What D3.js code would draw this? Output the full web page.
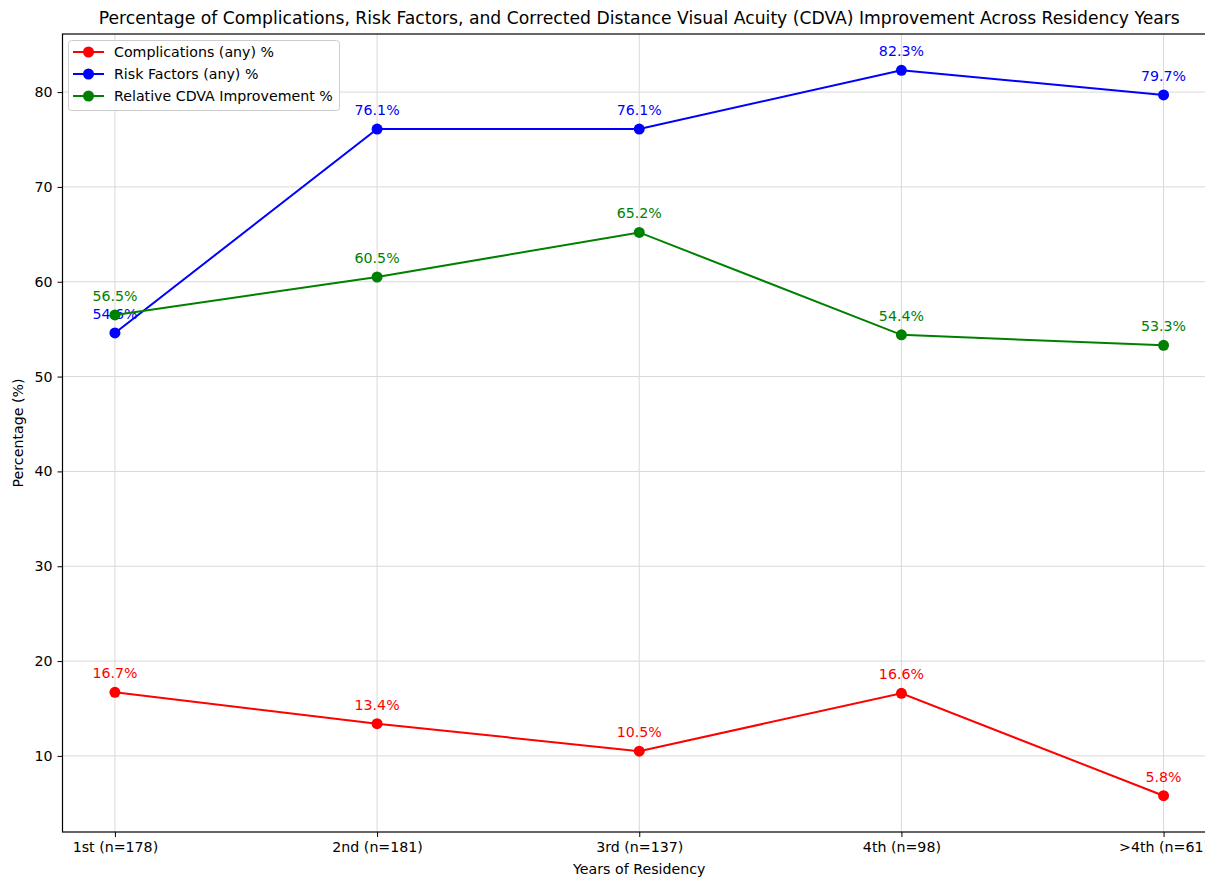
<!DOCTYPE html>
<html><head><meta charset="utf-8">
<script src="https://cdn.jsdelivr.net/npm/d3@7"></script>
<style>body{margin:0;background:#fff}svg{display:block;font-family:"DejaVu Sans",sans-serif}</style>
</head><body><svg id="c" width="1205" height="877"></svg>
<script>
const categories = ["1st (n=178)","2nd (n=181)","3rd (n=137)","4th (n=98)",">4th (n=61)"];
const complications = [16.7,13.4,10.5,16.6,5.8];
const riskFactors = [54.6,76.1,76.1,82.3,79.7];
const cdva = [56.5,60.5,65.2,54.4,53.3];
const yTicks = [10,20,30,40,50,60,70,80];
const seriesNames = ["Complications (any) %","Risk Factors (any) %","Relative CDVA Improvement %"];
const seriesColors = ["#ff0000","#0000ff","#008000"];
const series = [complications, riskFactors, cdva];

const svg = d3.select("#c");
const L=62.5, R=1216, T=34, B=832;
const FS=14.2;
const x = d3.scaleLinear().domain([-0.2,4.2]).range([L,R]);
const allV = series.flat();
const lo=d3.min(allV), hi=d3.max(allV), pad=(hi-lo)*0.05;
const y = d3.scaleLinear().domain([lo-pad,hi+pad]).range([B,T]);

// grid
const g = svg.append("g");
g.selectAll(".gx").data(categories).join("line")
 .attr("x1",(d,i)=>x(i)).attr("x2",(d,i)=>x(i)).attr("y1",T).attr("y2",B)
 .attr("stroke","#d9d9d9").attr("stroke-width",1);
g.selectAll(".gy").data(yTicks).join("line")
 .attr("x1",L).attr("x2",R).attr("y1",d=>y(d)).attr("y2",d=>y(d))
 .attr("stroke","#d9d9d9").attr("stroke-width",1);

// axes
const xAxis = d3.axisBottom(x).tickValues(d3.range(categories.length)).tickFormat(i=>categories[i]).tickSize(5).tickPadding(5);
const yAxis = d3.axisLeft(y).tickValues(yTicks).tickSize(5).tickPadding(5);
const ax = svg.append("g").attr("transform",`translate(0,${B})`).call(xAxis);
const ay = svg.append("g").attr("transform",`translate(${L},0)`).call(yAxis);
[ax,ay].forEach(a=>{a.select(".domain").remove();a.selectAll("text").attr("font-size",FS).attr("fill","#000").attr("font-family","DejaVu Sans");a.selectAll("line").attr("stroke","#000");});
// spines
svg.append("rect").attr("x",L).attr("y",T).attr("width",R-L).attr("height",B-T).attr("fill","none").attr("stroke","#000").attr("stroke-width",1.2);

// lines
const line = d3.line().x((d,i)=>x(i)).y(d=>y(d));
series.forEach((s,k)=>{
  svg.append("path").datum(s).attr("d",line).attr("fill","none").attr("stroke",seriesColors[k]).attr("stroke-width",2);
  svg.selectAll(null).data(s).join("circle").attr("cx",(d,i)=>x(i)).attr("cy",d=>y(d)).attr("r",5.5).attr("fill",seriesColors[k]);
  svg.selectAll(null).data(s).join("text").attr("x",(d,i)=>x(i)).attr("y",d=>y(d)-14)
    .attr("text-anchor","middle").attr("font-size",FS).attr("fill",seriesColors[k]).text(d=>d.toFixed(1)+"%");
});

// title & labels
svg.append("text").attr("x",(L+R)/2).attr("y",24).attr("text-anchor","middle").attr("font-size",17.2).text("Percentage of Complications, Risk Factors, and Corrected Distance Visual Acuity (CDVA) Improvement Across Residency Years");
svg.append("text").attr("x",(L+R)/2).attr("y",874).attr("text-anchor","middle").attr("font-size",FS).text("Years of Residency");
svg.append("text").attr("transform",`translate(23,${(T+B)/2}) rotate(-90)`).attr("text-anchor","middle").attr("font-size",FS).text("Percentage (%)");

// legend
const lg = svg.append("g");
lg.append("rect").attr("x",68.5).attr("y",40.5).attr("width",271).attr("height",70).attr("rx",3).attr("fill","#fff").attr("fill-opacity",0.8).attr("stroke","#cccccc");
seriesNames.forEach((n,k)=>{
  const yy = 52 + k*22;
  lg.append("line").attr("x1",73).attr("x2",104).attr("y1",yy).attr("y2",yy).attr("stroke",seriesColors[k]).attr("stroke-width",2);
  lg.append("circle").attr("cx",88.5).attr("cy",yy).attr("r",5.5).attr("fill",seriesColors[k]);
  lg.append("text").attr("x",114).attr("y",yy+5).attr("font-size",FS).text(n);
});
</script></body></html>
